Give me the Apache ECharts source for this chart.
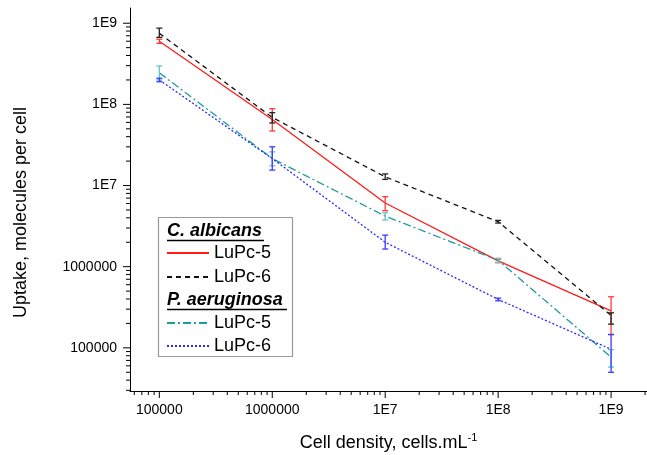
<!DOCTYPE html>
<html>
<head>
<meta charset="utf-8">
<script src="https://cdn.jsdelivr.net/npm/echarts@6/dist/echarts.min.js"></script>
<style>
html,body{margin:0;padding:0;background:#fff;}
#chart{width:647px;height:455px;}
</style>
</head>
<body>
<div id="chart"></div>
<script>
// ---- data ----
const cellDensity = [1e5, 1e6, 1e7, 1e8, 1e9];
const seriesNames = ['C. albicans LuPc-5', 'C. albicans LuPc-6', 'P. aeruginosa LuPc-5', 'P. aeruginosa LuPc-6'];

const albicans5 = [6.0e8, 6.5e7, 6.1e6, 1.18e6, 2.85e5];
const albicans5Low = [5.65e8, 4.7e7, 4.9e6, 1.12e6, 1.46e5];
const albicans5High = [6.35e8, 8.85e7, 7.3e6, 1.24e6, 4.26e5];

const albicans6 = [7.5e8, 6.9e7, 1.28e7, 3.58e6, 2.5e5];
const albicans6Low = [6.7e8, 5.9e7, 1.19e7, 3.45e6, 1.96e5];
const albicans6High = [8.7e8, 7.9e7, 1.39e7, 3.72e6, 2.7e5];

const aeruginosa5 = [2.45e8, 2.15e7, 4.2e6, 1.2e6, 7.7e4];
const aeruginosa5Low = [2.0e8, 1.75e7, 3.76e6, 1.13e6, 5.8e4];
const aeruginosa5High = [2.97e8, 2.6e7, 4.62e6, 1.27e6, 9.5e4];

const aeruginosa6 = [2.0e8, 2.15e7, 2.0e6, 3.95e5, 9.6e4];
const aeruginosa6Low = [1.9e8, 1.55e7, 1.65e6, 3.8e5, 5.0e4];
const aeruginosa6High = [2.1e8, 3.0e7, 2.45e6, 4.1e5, 1.46e5];

const tickValues = [1e5, 1e6, 1e7, 1e8, 1e9];
const xTickLabels = ['100000', '1000000', '1E7', '1E8', '1E9'];
const yTickLabels = ['100000', '1000000', '1E7', '1E8', '1E9'];

// ---- chart ----
const X_MIN = 55000, X_MAX = 2.08e9;
const Y_MIN = 29400, Y_MAX = 1.54e9;
const FONT = 'Liberation Sans, Arial, sans-serif';

function labelFor(labels) {
  return function (v) {
    for (let i = 0; i < tickValues.length; i++) {
      if (Math.abs(Math.log10(tickValues[i]) - Math.log10(v)) < 1e-6) return labels[i];
    }
    return '';
  };
}

// minor tick positions (2..9 x 10^k) for decoration
const minorTicks = [];
for (let k = 4; k <= 9; k++) {
  for (let m = 2; m <= 9; m++) minorTicks.push(m * Math.pow(10, k));
}
const xMinorTicks = minorTicks.filter(v => v > X_MIN && v < X_MAX);
const yMinorTicks = minorTicks.filter(v => v > Y_MIN && v < Y_MAX);

function lineData(vals) { return cellDensity.map((x, i) => [x, vals[i]]); }
function errData(lo, hi) { return cellDensity.map((x, i) => [x, lo[i], hi[i]]); }

function errSeries(lo, hi, color) {
  return {
    type: 'custom',
    data: errData(lo, hi),
    encode: { x: 0, y: [1, 2] },
    z: 3,
    silent: true,
    renderItem: function (params, api) {
      const x = api.value(0);
      const pLo = api.coord([x, api.value(1)]);
      const pHi = api.coord([x, api.value(2)]);
      const hw = 3;
      const st = { stroke: color, lineWidth: 1.3 };
      return {
        type: 'group',
        children: [
          { type: 'line', shape: { x1: pLo[0], y1: pLo[1], x2: pHi[0], y2: pHi[1] }, style: st },
          { type: 'line', shape: { x1: pLo[0] - hw, y1: pLo[1], x2: pLo[0] + hw, y2: pLo[1] }, style: st },
          { type: 'line', shape: { x1: pHi[0] - hw, y1: pHi[1], x2: pHi[0] + hw, y2: pHi[1] }, style: st }
        ]
      };
    }
  };
}

function tickSeries(values, isX, len) {
  return {
    type: 'custom',
    silent: true,
    z: 1,
    data: values.map(v => isX ? [v, Y_MIN] : [X_MIN, v]),
    encode: { x: 0, y: 1 },
    renderItem: function (params, api) {
      const cs = params.coordSys;
      const p = api.coord([api.value(0), api.value(1)]);
      if (isX) {
        const y0 = cs.y + cs.height;
        return { type: 'line', shape: { x1: p[0], y1: y0, x2: p[0], y2: y0 + len }, style: { stroke: '#000', lineWidth: 1 } };
      } else {
        const x0 = cs.x;
        return { type: 'line', shape: { x1: x0, y1: p[1], x2: x0 - len, y2: p[1] }, style: { stroke: '#000', lineWidth: 1 } };
      }
    }
  };
}

const colors = ['#ff1a1a', '#111111', '#1f9a9a', '#2a2aff'];
const errColors = ['#ff3838', '#222222', '#66c6c6', '#3a3aff'];
const dashes = ['solid', [5, 4], [8, 3, 2, 3], [2, 2]];
const values = [albicans5, albicans6, aeruginosa5, aeruginosa6];
const lows = [albicans5Low, albicans6Low, aeruginosa5Low, aeruginosa6Low];
const highs = [albicans5High, albicans6High, aeruginosa5High, aeruginosa6High];

const series = [];
values.forEach((vals, i) => {
  series.push({
    name: seriesNames[i],
    type: 'line',
    data: lineData(vals),
    symbol: 'none',
    z: 2,
    lineStyle: { color: colors[i], width: 1.3, type: dashes[i] },
    itemStyle: { color: colors[i] }
  });
});
values.forEach((vals, i) => series.push(errSeries(lows[i], highs[i], errColors[i])));
series.push(tickSeries(tickValues, true, 7));
series.push(tickSeries(xMinorTicks, true, 4));
series.push(tickSeries(tickValues, false, 7));
series.push(tickSeries(yMinorTicks, false, 4));

const legendCommon = {
  orient: 'vertical',
  left: 166,
  padding: 0,
  z: 50,
  itemWidth: 42,
  itemHeight: 14,
  selectedMode: false,
  itemStyle: { opacity: 0 },
  formatter: name => name.split(' ').pop(),
  textStyle: { fontSize: 18, color: '#000', fontFamily: FONT, padding: [0, 0, 0, 0] }
};

const option = {
  animation: false,
  backgroundColor: '#fff',
  grid: { left: 130, right: 0, top: 8, bottom: 64, outerBoundsMode: 'none', containLabel: false },
  xAxis: {
    type: 'log',
    min: X_MIN,
    max: X_MAX,
    name: '{a|Cell density, cells.mL}{s|-1}',
    nameLocation: 'middle',
    nameGap: 41,
    nameTextStyle: {
      rich: {
        a: { fontSize: 18, color: '#000', fontFamily: FONT, lineHeight: 22 },
        s: { fontSize: 11, color: '#000', fontFamily: FONT, verticalAlign: 'top', lineHeight: 12 }
      }
    },
    axisLine: { lineStyle: { color: '#000', width: 1 } },
    axisTick: { show: false },
    splitLine: { show: false },
    axisLabel: { formatter: labelFor(xTickLabels), fontSize: 14, color: '#000', fontFamily: FONT, margin: 12 }
  },
  yAxis: {
    type: 'log',
    min: Y_MIN,
    max: Y_MAX,
    name: 'Uptake, molecules per cell',
    nameLocation: 'middle',
    nameGap: 100,
    nameRotate: 90,
    nameTextStyle: { fontSize: 18, color: '#000', fontFamily: FONT, padding: [0, 26, 0, 0] },
    axisLine: { show: true, lineStyle: { color: '#000', width: 1 } },
    axisTick: { show: false },
    splitLine: { show: false },
    axisLabel: { formatter: labelFor(yTickLabels), fontSize: 14, color: '#000', fontFamily: FONT, margin: 13 }
  },
  legend: [
    Object.assign({}, legendCommon, { top: 244, itemGap: 6, data: seriesNames.slice(0, 2) }),
    Object.assign({}, legendCommon, { top: 314, itemGap: 5, data: seriesNames.slice(2, 4) })
  ],
  graphic: {
    z: 4,
    elements: [
      { type: 'rect', shape: { x: 158.5, y: 217.5, width: 134, height: 139 }, style: { fill: '#fff', stroke: '#999', lineWidth: 1.2 } },
      { type: 'text', x: 167, y: 231, style: { text: 'C. albicans', font: 'italic bold 18px ' + FONT, fill: '#000', verticalAlign: 'middle' } },
      { type: 'line', shape: { x1: 167, y1: 240.5, x2: 264, y2: 240.5 }, style: { stroke: '#000', lineWidth: 1.5 } },
      { type: 'text', x: 167, y: 300, style: { text: 'P. aeruginosa', font: 'italic bold 18px ' + FONT, fill: '#000', verticalAlign: 'middle' } },
      { type: 'line', shape: { x1: 167, y1: 309.5, x2: 287, y2: 309.5 }, style: { stroke: '#000', lineWidth: 1.5 } }
    ]
  },
  series: series
};

const chart = echarts.init(document.getElementById('chart'), null, { renderer: 'canvas' });
chart.setOption(option);
</script>
</body>
</html>
